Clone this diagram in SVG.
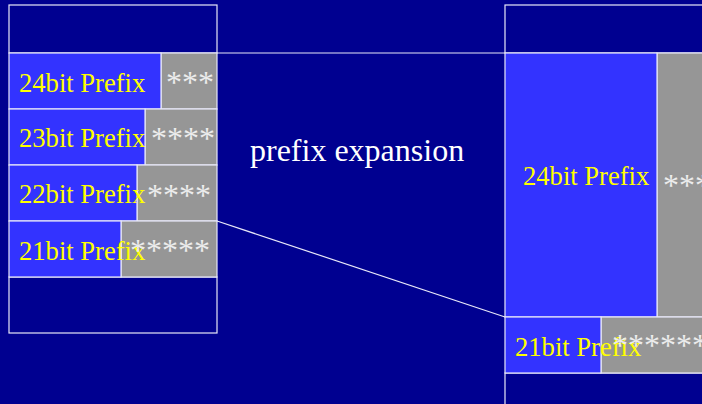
<svg xmlns="http://www.w3.org/2000/svg" width="702" height="404" viewBox="0 0 702 404">
  <style>
    .frame { fill: none; stroke: #e8e8f8; stroke-width: 1.2; }
    .pre { fill: #3333ff; stroke: #e8e8f8; stroke-width: 1.2; }
    .wild { fill: #969696; stroke: #e8e8f8; stroke-width: 1.2; }
    .lbl { font-family: "Liberation Serif", "Times New Roman", serif; font-size: 26.6px; fill: #ffff00; }
    .ast { font-family: "Liberation Serif", "Times New Roman", serif; font-size: 32px; fill: #ececec; }
    .title { font-family: "Liberation Serif", "Times New Roman", serif; font-size: 32px; fill: #ffffff; }
    .conn { stroke: #e8e8f8; stroke-width: 1.2; fill: none; }
  </style>
  <rect x="0" y="0" width="702" height="404" fill="#000090"/>

  <!-- left table -->
  <g id="left-table">
    <rect class="frame" x="9" y="5" width="208" height="48"/>
    <rect class="frame" x="9" y="277" width="208" height="56"/>
  </g>
  <g id="left-24">
    <rect class="wild" x="161" y="53" width="56" height="56"/>
    <rect class="pre" x="9" y="53" width="152" height="56"/>
    <text class="lbl" x="19" y="92">24bit Prefix</text>
    <text class="ast" x="166" y="93">***</text>
  </g>
  <g id="left-23">
    <rect class="wild" x="145" y="109" width="72" height="56"/>
    <rect class="pre" x="9" y="109" width="136" height="56"/>
    <text class="lbl" x="19" y="147">23bit Prefix</text>
    <text class="ast" x="151" y="149">****</text>
  </g>
  <g id="left-22">
    <rect class="wild" x="137" y="165" width="80" height="56"/>
    <rect class="pre" x="9" y="165" width="128" height="56"/>
    <text class="lbl" x="19" y="203">22bit Prefix</text>
    <text class="ast" x="147" y="206">****</text>
  </g>
  <g id="left-21">
    <rect class="wild" x="121" y="221" width="96" height="56"/>
    <rect class="pre" x="9" y="221" width="112" height="56"/>
    <text class="lbl" x="19" y="260">21bit Prefix</text>
    <text class="ast" x="130" y="261">*****</text>
  </g>

  <g id="caption">
    <text class="title" x="250" y="161">prefix expansion</text>
  </g>

  <!-- right table -->
  <g id="right-table">
    <rect class="frame" x="505" y="5" width="210" height="48"/>
    <rect class="frame" x="505" y="373" width="210" height="40"/>
  </g>
  <g id="right-24">
    <rect class="wild" x="657" y="53" width="60" height="264"/>
    <rect class="pre" x="505" y="53" width="152" height="264"/>
    <text class="lbl" x="523" y="185">24bit Prefix</text>
    <text class="ast" x="663" y="196">***</text>
  </g>
  <g id="right-21">
    <rect class="wild" x="601" y="317" width="116" height="56"/>
    <rect class="pre" x="505" y="317" width="96" height="56"/>
    <text class="lbl" x="515" y="356">21bit Prefix</text>
    <text class="ast" x="612" y="356">******</text>
  </g>

  <g id="connectors">
    <line class="conn" x1="217" y1="53" x2="505" y2="53"/>
    <line class="conn" x1="217" y1="221" x2="505" y2="317"/>
  </g>
</svg>
